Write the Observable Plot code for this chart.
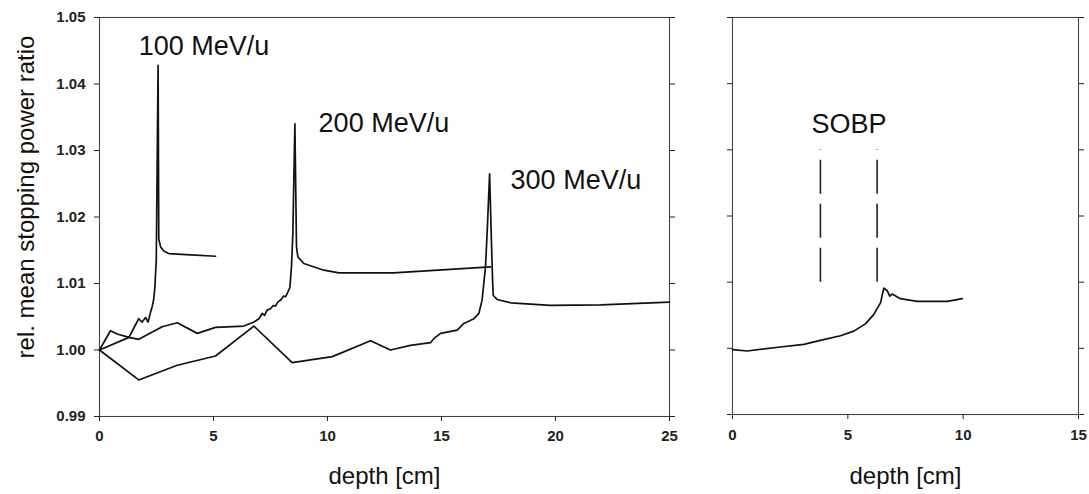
<!DOCTYPE html>
<html>
<head>
<meta charset="utf-8">
<script src="https://cdn.jsdelivr.net/npm/d3@7"></script>
<script src="https://cdn.jsdelivr.net/npm/@observablehq/plot@0.6"></script>
<style>
  html, body { margin: 0; padding: 0; background: #fff; }
  #chart { display: flex; flex-direction: row; width: 1089px; height: 494px; }
  #chart svg { display: block; max-width: none; }
</style>
</head>
<body>
<div id="chart"></div>
<script>
// ---------- data ----------
const yTicks = [0.99, 1.00, 1.01, 1.02, 1.03, 1.04, 1.05];
const xTicksLeft = [0, 5, 10, 15, 20, 25];
const xTicksRight = [0, 5, 10, 15];

const depth100 = [0, 0.48, 0.78, 1.29, 1.72, 1.87, 2.02, 2.13, 2.24, 2.31, 2.38, 2.43, 2.49, 2.57, 2.60, 2.68, 2.82, 3.04, 3.99, 5.09];
const ratio100 = [1.0000, 1.0029, 1.0024, 1.0019, 1.0047, 1.0042, 1.0049, 1.0042, 1.0057, 1.0065, 1.0077, 1.0095, 1.0135, 1.0428, 1.0167, 1.0155, 1.0149, 1.0145, 1.0143, 1.0141];

const depth200 = [0, 1.29, 1.72, 2.75, 3.41, 4.29, 5.09, 6.33, 6.77, 6.99, 7.14, 7.24, 7.35, 7.50, 7.62, 7.72, 7.82, 7.97, 8.06, 8.16, 8.26, 8.35, 8.42, 8.48, 8.57, 8.64, 8.70, 8.96, 9.84, 10.5, 12.9, 17.15];
const ratio200 = [1.0000, 1.0019, 1.0016, 1.0035, 1.0041, 1.0025, 1.0034, 1.0036, 1.0042, 1.0047, 1.0055, 1.0052, 1.0060, 1.0062, 1.0067, 1.0066, 1.0072, 1.0076, 1.0081, 1.0080, 1.0087, 1.0094, 1.0125, 1.0175, 1.0340, 1.0155, 1.0140, 1.0130, 1.0120, 1.0116, 1.0116, 1.0125];

const depth300 = [0, 1.72, 3.41, 5.09, 6.77, 8.45, 10.21, 11.89, 12.76, 13.64, 14.52, 14.66, 14.96, 15.69, 15.98, 16.42, 16.64, 16.78, 16.93, 17.00, 17.11, 17.18, 17.24, 17.27, 17.44, 18.03, 19.78, 22.0, 25.0];
const ratio300 = [1.0000, 0.9955, 0.9977, 0.9991, 1.0036, 0.9981, 0.9990, 1.0014, 1.0000, 1.0007, 1.0011, 1.0017, 1.0025, 1.0030, 1.0040, 1.0047, 1.0055, 1.0075, 1.0125, 1.0175, 1.0265, 1.0175, 1.0105, 1.0082, 1.0076, 1.0071, 1.0067, 1.0068, 1.0072];

const depthSOBP = [0, 0.64, 2.08, 3.09, 3.81, 4.68, 5.26, 5.76, 6.12, 6.42, 6.56, 6.71, 6.82, 6.92, 7.28, 8.01, 9.31, 9.96];
const ratioSOBP = [0.9998, 0.9996, 1.0002, 1.0006, 1.0012, 1.0019, 1.0026, 1.0037, 1.0051, 1.0069, 1.0091, 1.0087, 1.0079, 1.0082, 1.0075, 1.0071, 1.0071, 1.0075];

const sobpEdges = [3.81, 6.27];
const sobpMarkerLow = 1.010;
const sobpMarkerHigh = 1.030;

const energyLabels = ["100 MeV/u", "200 MeV/u", "300 MeV/u"];
const energyLabelDepth = [1.72, 9.61, 18.03];
const energyLabelRatio = [1.0456, 1.0341, 1.0255];
const sobpLabel = "SOBP";
const sobpLabelDepth = 5.05;
const sobpLabelRatio = 1.0339;

const xTitle = "depth [cm]";
const yTitle = "rel. mean stopping power ratio";

// ---------- build tables ----------
const toRows = (xs, ys) => xs.map((d, i) => ({depth: d, ratio: ys[i]}));
const rows100 = toRows(depth100, ratio100);
const rows200 = toRows(depth200, ratio200);
const rows300 = toRows(depth300, ratio300);
const rowsSOBP = toRows(depthSOBP, ratioSOBP);
const labelRows = energyLabels.map((t, i) => ({text: t, depth: energyLabelDepth[i], ratio: energyLabelRatio[i]}));

const FONT = "'Liberation Sans', Arial, Helvetica, sans-serif";
const lineStyle = {x: "depth", y: "ratio", stroke: "#111", strokeWidth: 1.7, strokeLinejoin: "round"};
const frameStroke = "#444";

const left = Plot.plot({
  width: 700, height: 494,
  marginLeft: 99, marginRight: 31, marginTop: 17, marginBottom: 78,
  style: {fontFamily: FONT, background: "transparent", color: "#222", overflow: "visible"},
  x: {domain: [0, 25]},
  y: {domain: [0.99, 1.05]},
  marks: [
    Plot.frame({stroke: frameStroke, strokeWidth: 1.1}),
    Plot.axisY({anchor: "left", ticks: yTicks, tickSize: 5, tickPadding: 9, tickFormat: d3.format(".2f"), fontSize: 15, fontWeight: "bold", label: null}),
    Plot.axisY({anchor: "right", ticks: yTicks, tickSize: 5, tickFormat: () => "", label: null}),
    Plot.axisX({anchor: "bottom", ticks: xTicksLeft, tickSize: 5, tickPadding: 9, fontSize: 15, fontWeight: "bold", label: null}),
    Plot.line(rows300, lineStyle),
    Plot.line(rows200, lineStyle),
    Plot.line(rows100, lineStyle),
    Plot.text(labelRows, {x: "depth", y: "ratio", text: "text", textAnchor: "start", lineAnchor: "middle", fontSize: 27, fill: "#111"}),
    Plot.text([yTitle], {frameAnchor: "left", dx: -73, dy: -20, rotate: -90, textAnchor: "middle", lineAnchor: "middle", fontSize: 24, fill: "#111"}),
    Plot.text([xTitle], {frameAnchor: "bottom", dy: 60, textAnchor: "middle", lineAnchor: "middle", fontSize: 24, fill: "#111"})
  ]
});

const right = Plot.plot({
  width: 389, height: 494,
  marginLeft: 32, marginRight: 11, marginTop: 17, marginBottom: 80,
  style: {fontFamily: FONT, background: "transparent", color: "#222", overflow: "visible"},
  x: {domain: [0, 15]},
  y: {domain: [0.99, 1.05]},
  marks: [
    Plot.frame({stroke: frameStroke, strokeWidth: 1.1}),
    Plot.axisY({anchor: "left", ticks: yTicks, tickSize: 5, tickFormat: () => "", label: null}),
    Plot.axisY({anchor: "right", ticks: yTicks, tickSize: 5, tickFormat: () => "", label: null}),
    Plot.axisX({anchor: "bottom", ticks: xTicksRight, tickSize: 5, tickPadding: 10, fontSize: 15, fontWeight: "bold", label: null}),
    Plot.ruleX(sobpEdges, {x: d => d, y1: sobpMarkerLow, y2: sobpMarkerHigh, stroke: "#222", strokeWidth: 1.6, strokeDasharray: "34,10"}),
    Plot.line(rowsSOBP, lineStyle),
    Plot.text([sobpLabel], {x: sobpLabelDepth, y: sobpLabelRatio, textAnchor: "middle", lineAnchor: "middle", fontSize: 27, fill: "#111"}),
    Plot.text([xTitle], {frameAnchor: "bottom", dy: 62, textAnchor: "middle", lineAnchor: "middle", fontSize: 24, fill: "#111"})
  ]
});

const chart = document.getElementById("chart");
chart.appendChild(left);
chart.appendChild(right);
</script>
</body>
</html>
